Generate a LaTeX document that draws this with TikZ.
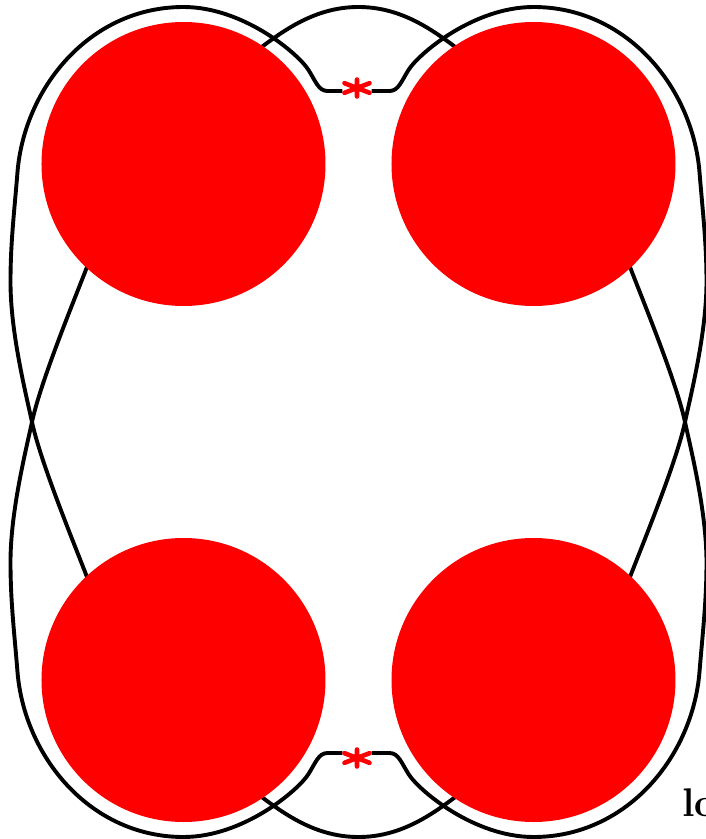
\documentclass[tikz,border=0pt]{standalone}
\begin{document}
\begin{tikzpicture}[x=1pt,y=1pt,
  curve/.style={line width=3.9pt, black, line join=round},
  disk/.style={circle, fill=red, minimum size=284pt, inner sep=0pt, draw=none},
  astnode/.style={minimum width=29pt, minimum height=6pt, inner sep=0pt},
  astline/.style={red, line width=4.6pt, line cap=round},
  lbl/.style={font=\bfseries\fontsize{40}{44}\selectfont, inner sep=0pt, anchor=base west}]
\useasboundingbox (-358.5,-417) rectangle (347.5,422);
\node[astnode] (astT) at (-1.5,331) {};
\node[astnode] (astB) at (-1.5,-331) {};
% upper curve (through top asterisk)
\draw[curve] (astT) -- (-31,331)
 .. controls (-40,331) and (-43,341) .. (-50,352)
 .. controls (-60,368) and (-115,415) .. (-175,415)
 .. controls (-268,415) and (-334,335) .. (-341,250)
 .. controls (-344.2,210) and (-348,180) .. (-348,140)
 .. controls (-348,90) and (-333,30) .. (-326.5,0)
 .. controls (-318,-40) and (-285,-120) .. (-271.5,-155)
 .. controls (-261.5,-181) and (-129.5,-351) .. (-95.5,-376)
 .. controls (-70,-395) and (-40,-415) .. (0,-415)
 .. controls (40,-415) and (70,-395) .. (95.5,-376)
 .. controls (129.5,-351) and (261.5,-181) .. (271.5,-155)
 .. controls (285,-120) and (318,-40) .. (326.5,0)
 .. controls (333,30) and (348,90) .. (348,140)
 .. controls (348,180) and (344.2,210) .. (341,250)
 .. controls (334,335) and (268,415) .. (175,415)
 .. controls (115,415) and (60,368) .. (50,352)
 .. controls (43,341) and (40,331) .. (31,331)
 -- (astT);
% lower curve (through bottom asterisk)
\draw[curve] (astB) -- (-31,-331)
 .. controls (-40,-331) and (-43,-341) .. (-50,-352)
 .. controls (-60,-368) and (-115,-415) .. (-175,-415)
 .. controls (-268,-415) and (-334,-335) .. (-341,-250)
 .. controls (-344.2,-210) and (-348,-180) .. (-348,-140)
 .. controls (-348,-90) and (-333,-30) .. (-326.5,0)
 .. controls (-318,40) and (-285,120) .. (-271.5,155)
 .. controls (-261.5,181) and (-129.5,351) .. (-95.5,376)
 .. controls (-70,395) and (-40,415) .. (0,415)
 .. controls (40,415) and (70,395) .. (95.5,376)
 .. controls (129.5,351) and (261.5,181) .. (271.5,155)
 .. controls (285,120) and (318,40) .. (326.5,0)
 .. controls (333,-30) and (348,-90) .. (348,-140)
 .. controls (348,-180) and (344.2,-210) .. (341,-250)
 .. controls (334,-335) and (268,-415) .. (175,-415)
 .. controls (115,-415) and (60,-368) .. (50,-352)
 .. controls (43,-341) and (40,-331) .. (31,-331)
 -- (astB);
% disks
\node[disk] (dTL) at (-175,258) {};
\node[disk] (dTR) at (175,258) {};
\node[disk] (dBL) at (-175,-258) {};
\node[disk] (dBR) at (175,-258) {};
% asterisks
\draw[astline, shift={(-1.5,334)}] (0,-8.5) -- (0,8.5) (-12.5,-4.8) -- (12.5,4.8) (-12.5,4.8) -- (12.5,-4.8);
\draw[astline, shift={(-1.5,-336)}] (0,-8.5) -- (0,8.5) (-12.5,-4.8) -- (12.5,4.8) (-12.5,4.8) -- (12.5,-4.8);
% label
\node[lbl] (lab) at (323.5,-394) {lo};
\end{tikzpicture}
\end{document}
